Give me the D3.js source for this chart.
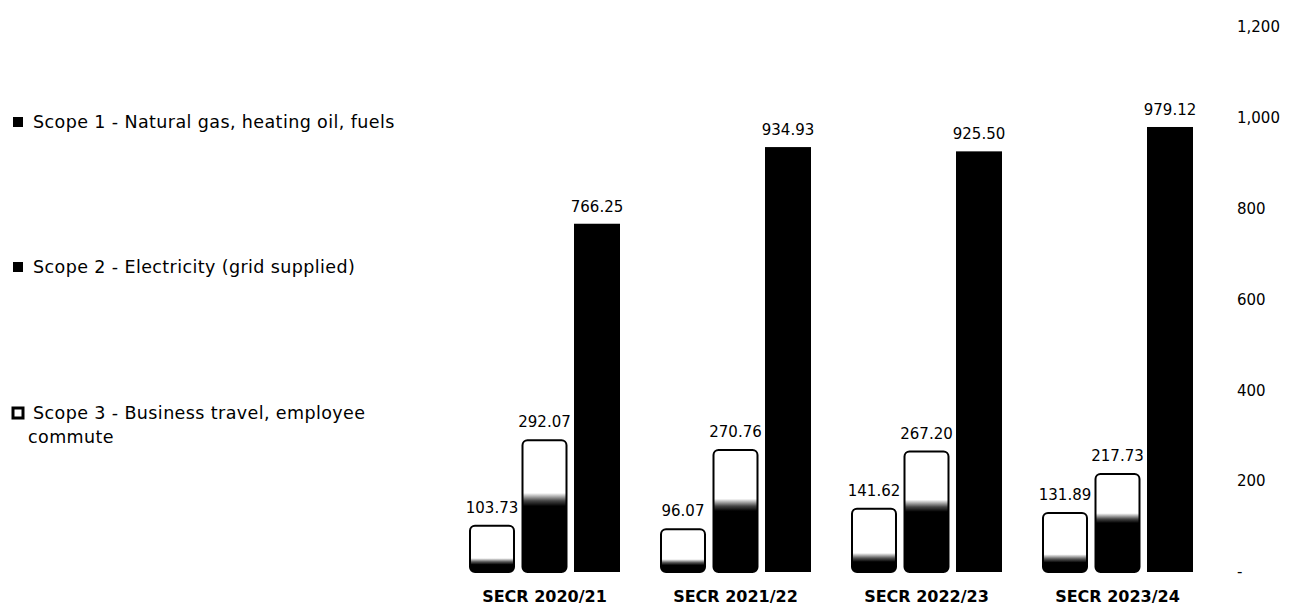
<!DOCTYPE html>
<html>
<head>
<meta charset="utf-8">
<script src="https://cdn.jsdelivr.net/npm/d3@7"></script>
<style>
  html, body { margin: 0; padding: 0; background: #fff; }
  svg { display: block; }
  text { font-family: "DejaVu Sans", sans-serif; fill: #000; }
</style>
</head>
<body>
<svg id="chart" width="1289" height="609"></svg>
<script>
const categories = ["SECR 2020/21", "SECR 2021/22", "SECR 2022/23", "SECR 2023/24"];
const seriesNames = [
  "Scope 1 - Natural gas, heating oil, fuels",
  "Scope 2 - Electricity (grid supplied)",
  "Scope 3 - Business travel, employee commute"
];
const scope1 = [103.73, 96.07, 141.62, 131.89];
const scope2 = [292.07, 270.76, 267.20, 217.73];
const scope3 = [766.25, 934.93, 925.50, 979.12];
const yTickValues = [0, 200, 400, 600, 800, 1000, 1200];

const series = [scope1, scope2, scope3];
const svg = d3.select("#chart");

// Gradients to mimic the scanned look of the outlined bars
const defs = svg.append("defs");
function grad(id, stops) {
  const g = defs.append("linearGradient").attr("id", id)
    .attr("x1", 0).attr("y1", 0).attr("x2", 0).attr("y2", 1);
  stops.forEach(s => g.append("stop").attr("offset", s[0]).attr("stop-color", s[1]));
}
grad("g0", [[0, "#fff"], [0.70, "#fff"], [0.78, "#555"], [0.84, "#000"], [1, "#000"]]);
grad("g1", [[0, "#fff"], [0.40, "#fff"], [0.46, "#444"], [0.50, "#000"], [1, "#000"]]);

const x0 = d3.scaleBand().domain(categories).range([449, 1213])
  .paddingInner(40 / 191).paddingOuter(20 / 191);
const x1 = d3.scaleBand().domain([0, 1, 2]).range([0, x0.bandwidth()])
  .paddingInner(0.124).paddingOuter(0);
const y = d3.scaleLinear().domain([0, 1200]).range([572, 572 - 1200 * 0.4545]);

const rows = categories.map((c, i) => ({ cat: c, vals: series.map((s, k) => ({ k, v: s[i] })) }));

const groups = svg.append("g").selectAll("g").data(rows).join("g")
  .attr("transform", d => `translate(${x0(d.cat)},0)`);

groups.selectAll("rect").data(d => d.vals).join("rect")
  .attr("x", d => x1(d.k) + (d.k < 2 ? 1 : 0))
  .attr("width", d => x1.bandwidth() - (d.k < 2 ? 2 : 0))
  .attr("y", d => y(d.v) + (d.k < 2 ? 1 : 0))
  .attr("height", d => y(0) - y(d.v) - (d.k < 2 ? 1 : 0))
  .attr("rx", d => d.k < 2 ? 5 : 0)
  .attr("fill", d => d.k === 0 ? "url(#g0)" : d.k === 1 ? "url(#g1)" : "#000")
  .attr("stroke", d => d.k < 2 ? "#000" : "none")
  .attr("stroke-width", 2);

groups.selectAll("text.val").data(d => d.vals).join("text")
  .attr("class", "val")
  .attr("x", d => x1(d.k) + x1.bandwidth() / 2)
  .attr("y", d => y(d.v) - 12)
  .attr("text-anchor", "middle")
  .style("font-size", "15px")
  .text(d => d.v.toFixed(2));

// category labels
svg.append("g").selectAll("text").data(categories).join("text")
  .attr("x", d => x0(d) + x0.bandwidth() / 2)
  .attr("y", 602)
  .attr("text-anchor", "middle")
  .style("font-size", "16px")
  .style("font-weight", "bold")
  .text(d => d);

// right value axis (labels only)
const yAxis = d3.axisRight(y).tickValues(yTickValues).tickSize(0).tickPadding(0)
  .tickFormat(v => v === 0 ? "-" : d3.format(",")(v));
const ag = svg.append("g").attr("transform", "translate(1237,0)").call(yAxis);
ag.select(".domain").remove();
ag.selectAll("text").style("font-family", "'DejaVu Sans', sans-serif")
  .style("font-size", "15px").attr("fill", "#000");

// legend
const legendY = [122, 267, 413];
const lg = svg.append("g").selectAll("g").data(seriesNames).join("g")
  .attr("transform", (d, i) => `translate(0,${legendY[i]})`);
lg.append("rect")
  .attr("x", 13).attr("y", -5).attr("width", 10).attr("height", 10)
  .attr("fill", (d, i) => i < 2 ? "#000" : "#fff")
  .attr("stroke", "#000").attr("stroke-width", (d, i) => i < 2 ? 0 : 3);
lg.append("text")
  .attr("x", 33).attr("y", 6)
  .style("font-size", "17.5px")
  .style("letter-spacing", "0.4px")
  .each(function (d, i) {
    const t = d3.select(this);
    if (i === 2) {
      t.append("tspan").attr("x", 33).attr("dy", 0).text("Scope 3 - Business travel, employee");
      t.append("tspan").attr("x", 28).attr("dy", 24).text("commute");
    } else {
      t.text(d);
    }
  });
</script>
</body>
</html>
